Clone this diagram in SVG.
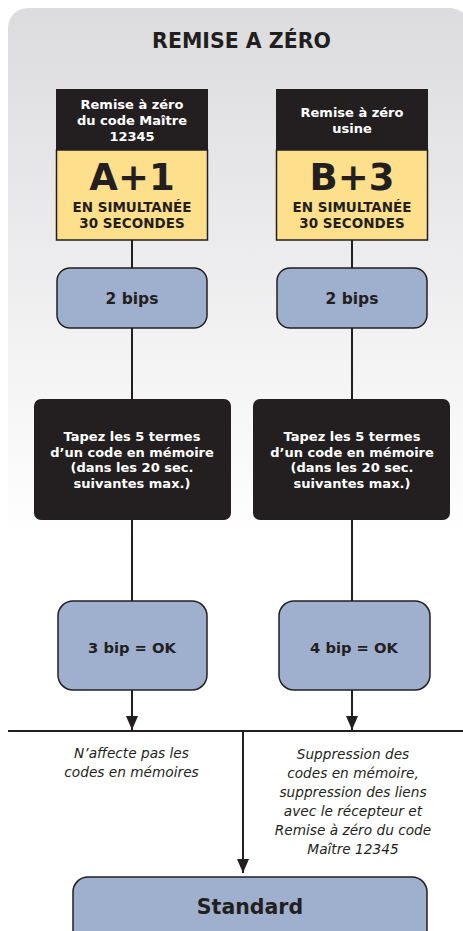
<svg xmlns="http://www.w3.org/2000/svg" width="463" height="931" viewBox="0 0 463 931">
<defs>
<linearGradient id="bg" gradientUnits="userSpaceOnUse" x1="0" y1="8" x2="0" y2="540">
<stop offset="0" stop-color="#dcdcdf"/>
<stop offset="1" stop-color="#ffffff"/>
</linearGradient>
<marker id="arr" viewBox="0 0 14 12" refX="14" refY="6" markerWidth="14" markerHeight="12" markerUnits="userSpaceOnUse" orient="auto">
<path d="M0,0 L14,6 L0,12 Z" fill="#231f20"/>
</marker>
<style>
.line{stroke:#231f20;stroke-width:2;fill:none}
.hdr{fill:#231f20}
.yel{fill:#fedf8c;stroke:#231f20;stroke-width:1.5}
.blue{fill:#9eb0cd;stroke:#231f20;stroke-width:1.5}
.blk{fill:#231f20}
.wt{font-family:"DejaVu Sans",Verdana,sans-serif;font-weight:bold;fill:#ffffff;text-anchor:middle}
.bt{font-family:"DejaVu Sans",Verdana,sans-serif;font-weight:bold;fill:#231f20;text-anchor:middle}
.it{font-family:"DejaVu Sans",Verdana,sans-serif;font-style:italic;fill:#231f20;text-anchor:middle;font-size:13.7px}
</style>
</defs>
<rect x="0" y="0" width="463" height="931" fill="#ffffff"/>
<rect x="8" y="8" width="462" height="940" rx="20" fill="url(#bg)"/>
<text id="title" class="bt" x="241.5" y="48" font-size="20.5">REMISE A ZÉRO</text>

<g id="connectors">
<line class="line" x1="132" y1="240" x2="132" y2="268"/>
<line class="line" x1="132" y1="328" x2="132" y2="400"/>
<line class="line" x1="132" y1="520" x2="132" y2="601"/>
<line class="line" x1="132" y1="690" x2="132" y2="730" marker-end="url(#arr)"/>
<line class="line" x1="352" y1="240" x2="352" y2="268"/>
<line class="line" x1="352" y1="328" x2="352" y2="400"/>
<line class="line" x1="352" y1="520" x2="352" y2="601"/>
<line class="line" x1="352" y1="690" x2="352" y2="730" marker-end="url(#arr)"/>
<line class="line" x1="8" y1="731" x2="463" y2="731"/>
<line class="line" x1="243" y1="731" x2="243" y2="873" marker-end="url(#arr)"/>
</g>

<g id="nodeA">
<rect class="yel" x="56.5" y="150" width="151" height="90"/>
<rect class="hdr" x="56" y="89" width="152" height="61"/>
<text class="wt" x="132" y="109" font-size="13">Remise à zéro</text>
<text class="wt" x="132" y="125" font-size="13">du code Maître</text>
<text class="wt" x="132" y="141" font-size="13">12345</text>
<text class="bt" x="132" y="190" font-size="37">A+1</text>
<text class="bt" x="132" y="212" font-size="13.5">EN SIMULTANÉE</text>
<text class="bt" x="132" y="228" font-size="13.5">30 SECONDES</text>
</g>

<g id="nodeB">
<rect class="yel" x="276.5" y="150" width="151" height="90"/>
<rect class="hdr" x="276" y="89" width="152" height="61"/>
<text class="wt" x="352" y="117" font-size="13">Remise à zéro</text>
<text class="wt" x="352" y="133" font-size="13">usine</text>
<text class="bt" x="352" y="190" font-size="37">B+3</text>
<text class="bt" x="352" y="212" font-size="13.5">EN SIMULTANÉE</text>
<text class="bt" x="352" y="228" font-size="13.5">30 SECONDES</text>
</g>

<g id="bipsA">
<rect class="blue" x="57" y="268" width="150" height="60" rx="13"/>
<text class="bt" x="132" y="304" font-size="15.5">2 bips</text>
</g>
<g id="bipsB">
<rect class="blue" x="277" y="268" width="150" height="60" rx="13"/>
<text class="bt" x="352" y="304" font-size="15.5">2 bips</text>
</g>

<g id="tapezA">
<rect class="blk" x="34" y="399" width="197" height="121" rx="7"/>
<text class="wt" x="132" y="441" font-size="13">Tapez les 5 termes</text>
<text class="wt" x="132" y="456.5" font-size="13">d’un code en mémoire</text>
<text class="wt" x="132" y="472" font-size="13">(dans les 20 sec.</text>
<text class="wt" x="132" y="487.5" font-size="13">suivantes max.)</text>
</g>
<g id="tapezB">
<rect class="blk" x="253" y="399" width="197" height="121" rx="7"/>
<text class="wt" x="352" y="441" font-size="13">Tapez les 5 termes</text>
<text class="wt" x="352" y="456.5" font-size="13">d’un code en mémoire</text>
<text class="wt" x="352" y="472" font-size="13">(dans les 20 sec.</text>
<text class="wt" x="352" y="487.5" font-size="13">suivantes max.)</text>
</g>

<g id="okA">
<rect class="blue" x="58" y="601" width="149" height="89" rx="15"/>
<text class="bt" x="132" y="653" font-size="14.7">3 bip = OK</text>
</g>
<g id="okB">
<rect class="blue" x="279" y="601" width="151" height="89" rx="15"/>
<text class="bt" x="354" y="653" font-size="14.7">4 bip = OK</text>
</g>

<g id="noteA">
<text class="it" x="131.5" y="758">N’affecte pas les</text>
<text class="it" x="131.5" y="777">codes en mémoires</text>
</g>
<g id="noteB">
<text class="it" x="353" y="759">Suppression des</text>
<text class="it" x="353" y="778">codes en mémoire,</text>
<text class="it" x="353" y="797">suppression des liens</text>
<text class="it" x="353" y="816">avec le récepteur et</text>
<text class="it" x="353" y="835">Remise à zéro du code</text>
<text class="it" x="353" y="854">Maître 12345</text>
</g>

<g id="standard">
<rect class="blue" x="73" y="877" width="354" height="70" rx="15"/>
<text class="bt" x="250" y="914" font-size="20.5">Standard</text>
</g>
</svg>
